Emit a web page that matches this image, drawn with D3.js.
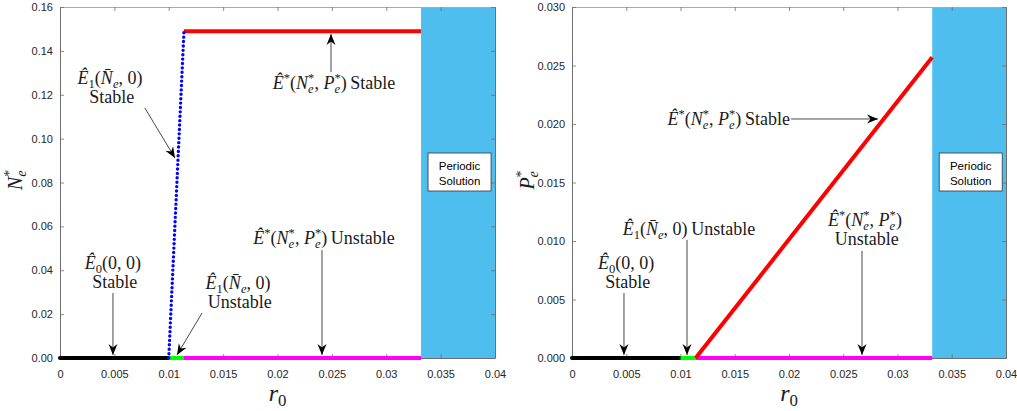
<!DOCTYPE html>
<html>
<head>
<meta charset="utf-8">
<script src="https://cdn.jsdelivr.net/npm/d3@7/dist/d3.min.js"></script>
<style>
  html, body { margin: 0; padding: 0; background: #fff; }
  svg { display: block; }
  .tick text { font-family: "Liberation Sans", Arial, sans-serif; font-size: 11px; fill: #262626; }
</style>
</head>
<body>
<svg id="chart" width="1017" height="411"></svg>
<script>
// ---- bifurcation data (r0 vs equilibrium values) ----
const rE0 = [0, 0.01];            // E0 stable branch
const vE0 = [0, 0];
const rE1 = [0.01, 0.0114];       // E1 branch
const nE1Stable = [0, 0.149];     // N of E1 (stable, dotted)
const vE1Zero = [0, 0];           // E1 unstable at zero
const rEstar = [0.0114, 0.0332];  // interior equilibrium branch
const nEstarStable = [0.149, 0.149];
const pEstarStable = [0, 0.0257];
const vEstarZero = [0, 0];
const periodicBand = [0.0332, 0.04];

const xTicks = [0, 0.005, 0.01, 0.015, 0.02, 0.025, 0.03, 0.035, 0.04];
const xTickLabels = ["0", "0.005", "0.01", "0.015", "0.02", "0.025", "0.03", "0.035", "0.04"];
const nTicks = [0, 0.02, 0.04, 0.06, 0.08, 0.10, 0.12, 0.14, 0.16];
const nTickLabels = ["0.00", "0.02", "0.04", "0.06", "0.08", "0.10", "0.12", "0.14", "0.16"];
const pTicks = [0, 0.005, 0.01, 0.015, 0.02, 0.025, 0.03];
const pTickLabels = ["0.000", "0.005", "0.010", "0.015", "0.020", "0.025", "0.030"];

// ---- math label pieces: [text, style] ----
// style: r roman, i italic, sb italic subscript, sbr roman subscript, sp superscript, ss stacked [sub, sup]
const E1 = [["\u00CA", "i"], ["1", "sbr"], ["(", "r"], ["N\u0304", "i"], ["e", "sb"], [", 0)", "r"]];
const E0 = [["\u00CA", "i"], ["0", "sbr"], ["(0, 0)", "r"]];
const Estar = [["\u00CA", "i"], ["*", "sp"], ["(", "r"], ["N", "i"], [["e", "*"], "ss"], [", ", "r"], ["P", "i"], [["e", "*"], "ss"], [")", "r"]];
const word = w => [["\u2009" + w, "r"]];

const svg = d3.select("#chart");
const serif = '"Liberation Serif", "Times New Roman", serif';
const fs = 18;

function mathText(g, x, y, tokens, size, anchor) {
  const t = g.append("text")
    .attr("x", x).attr("y", y)
    .attr("text-anchor", anchor || "middle")
    .attr("font-family", serif)
    .attr("font-size", size)
    .attr("fill", "#1a1a1a");
  let off = 0;
  const subShift = 0.22 * size, supShift = -0.38 * size, small = 0.7 * size;
  tokens.forEach(([txt, st]) => {
    if (st === "ss") {
      const a = t.append("tspan").attr("dy", subShift - off).attr("font-size", small)
        .attr("font-style", "italic").text(txt[0]);
      const w = a.node().getComputedTextLength();
      t.append("tspan").attr("dx", -w).attr("dy", supShift - subShift).attr("font-size", small).text(txt[1]);
      off = supShift;
      return;
    }
    let target = 0, fsz = size, style = "normal";
    if (st === "i") style = "italic";
    if (st === "sb") { target = subShift; fsz = small; style = "italic"; }
    if (st === "sbr") { target = subShift; fsz = small; }
    if (st === "sp") { target = supShift; fsz = small; }
    t.append("tspan").attr("dy", target - off).attr("font-size", fsz)
      .attr("font-style", style).text(txt);
    off = target;
  });
  return t;
}

function arrow(g, x1, y1, x2, y2) {
  g.append("line").attr("x1", x1).attr("y1", y1).attr("x2", x2).attr("y2", y2)
    .attr("stroke", "#333").attr("stroke-width", 0.9);
  const ang = Math.atan2(y2 - y1, x2 - x1) * 180 / Math.PI;
  g.append("path").attr("d", "M0,0 L-11,-4.5 L-7.5,0 L-11,4.5 Z")
    .attr("fill", "#000")
    .attr("transform", `translate(${x2},${y2}) rotate(${ang})`);
}

function panel(opts) {
  const x = d3.scaleLinear().domain([0, 0.04]).range([opts.left, opts.right]);
  const y = d3.scaleLinear().domain(opts.yDomain).range([358, 7]);
  const g = svg.append("g");

  // periodic region
  g.append("rect")
    .attr("x", x(periodicBand[0])).attr("y", y.range()[1])
    .attr("width", x(periodicBand[1]) - x(periodicBand[0]))
    .attr("height", y.range()[0] - y.range()[1])
    .attr("fill", "#4DBEEE");

  // axes with box
  const axisColor = "#6e6e6e";
  const ax = [
    d3.axisBottom(x).tickValues(xTicks).tickFormat((d, i) => xTickLabels[i]).tickSizeInner(-4).tickSizeOuter(0).tickPadding(12),
    d3.axisTop(x).tickValues(xTicks).tickFormat("").tickSizeInner(-4).tickSizeOuter(0),
    d3.axisLeft(y).tickValues(opts.yTicks).tickFormat((d, i) => opts.yLabels[i]).tickSizeInner(-4).tickSizeOuter(0).tickPadding(7),
    d3.axisRight(y).tickValues(opts.yTicks).tickFormat("").tickSizeInner(-4).tickSizeOuter(0)
  ];
  const pos = [`translate(0,${y(opts.yDomain[0])})`, `translate(0,${y(opts.yDomain[1])})`,
               `translate(${x(0)},0)`, `translate(${x(0.04)},0)`];
  ax.forEach((a, i) => {
    const ag = g.append("g").attr("transform", pos[i]).call(a);
    ag.selectAll("path.domain").attr("stroke", i === 1 ? "#aaa" : axisColor).attr("stroke-width", 1);
    ag.selectAll(".tick line").attr("stroke", axisColor).attr("stroke-width", 0.8);
  });

  const line = d3.line().x(d => x(d[0])).y(d => y(d[1]));
  const seg = (rs, vs) => rs.map((r, i) => [r, vs[i]]);
  const draw = (rs, vs, color, extra) => {
    const p = g.append("path").datum(seg(rs, vs)).attr("d", line)
      .attr("fill", "none").attr("stroke", color).attr("stroke-width", 4)
      .attr("stroke-linecap", "butt");
    if (extra) extra(p);
  };
  draw(rE0, vE0, "#000", p => p.attr("stroke-linecap", "round"));
  draw(rE1, vE1Zero, "#00FF00");
  draw(rEstar, vEstarZero, "#FF00FF");
  opts.curves.forEach(c => draw(c[0], c[1], c[2], c[3]));

  // periodic solution label box
  const bx = x(periodicBand[0]) + 7, by = 153;
  g.append("rect").attr("x", bx).attr("y", by).attr("width", 63).attr("height", 38)
    .attr("fill", "#fff").attr("stroke", "#333").attr("stroke-width", 0.8);
  ["Periodic", "Solution"].forEach((s, i) => {
    g.append("text").attr("x", bx + 31.5).attr("y", by + 17 + i * 15)
      .attr("text-anchor", "middle").attr("font-family", '"Liberation Sans", Arial, sans-serif')
      .attr("font-size", 11.5).attr("fill", "#000").text(s);
  });

  // annotations
  opts.notes.forEach(n => {
    n.lines.forEach((tok, i) => {
      mathText(g, x(n.at[0]), y(n.at[1]) + 6 + i * 19, tok, fs, n.anchor || "middle");
    });
    arrow(g, x(n.from[0]), y(n.from[1]), x(n.to[0]), y(n.to[1]));
  });

  // axis titles
  const yl = g.append("g").attr("transform", `translate(${opts.left - 38},180) rotate(-90)`);
  mathText(yl, 0, 0, [[opts.yVar, "i"], [["e", "*"], "ss"]], 20, "middle");
  mathText(g, (opts.left + opts.right) / 2, 401, [["r", "i"], ["0", "sbr"]], 24, "middle");
}

panel({
  left: 60, right: 495,
  yDomain: [0, 0.16], yTicks: nTicks, yLabels: nTickLabels, yVar: "N",
  curves: [
    [rEstar, nEstarStable, "#FF0000"],
    [rE1, nE1Stable, "#0000FF", p => p.attr("stroke-width", 3.4).attr("stroke-linecap", "round").attr("stroke-dasharray", "0 4.4")]
  ],
  notes: [
    { lines: [E1, word("Stable")], at: [0.0046, 0.1276], from: [0.0078, 0.1140], to: [0.01057, 0.0912] },
    { lines: [Estar.concat(word("Stable"))], at: [0.0252, 0.1254], from: [0.02492, 0.1304], to: [0.02492, 0.1477] },
    { lines: [E0, word("Stable")], at: [0.00487, 0.0433], from: [0.00487, 0.0296], to: [0.00487, 0.0014] },
    { lines: [Estar.concat(word("Unstable"))], at: [0.02428, 0.0547], from: [0.02409, 0.0492], to: [0.02409, 0.0014] },
    { lines: [E1, word("Unstable")], at: [0.01637, 0.0342], from: [0.01306, 0.0205], to: [0.01076, 0.0014] }
  ]
});

panel({
  left: 572, right: 1006,
  yDomain: [0, 0.03], yTicks: pTicks, yLabels: pTickLabels, yVar: "P",
  curves: [
    [rEstar, pEstarStable, "#FF0000"]
  ],
  notes: [
    { lines: [Estar.concat(word("Stable"))], at: [0.02009, 0.02043], anchor: "end", from: [0.02019, 0.02043], to: [0.0282, 0.02043] },
    { lines: [E1.concat(word("Unstable"))], at: [0.01078, 0.01103], from: [0.0106, 0.01009], to: [0.0106, 0.00026] },
    { lines: [E0, word("Stable")], at: [0.00498, 0.00812], from: [0.00479, 0.00556], to: [0.00479, 0.00026] },
    { lines: [Estar, word("Unstable")], at: [0.0270, 0.0118], from: [0.02673, 0.00915], to: [0.02673, 0.00026] }
  ]
});
</script>
</body>
</html>
